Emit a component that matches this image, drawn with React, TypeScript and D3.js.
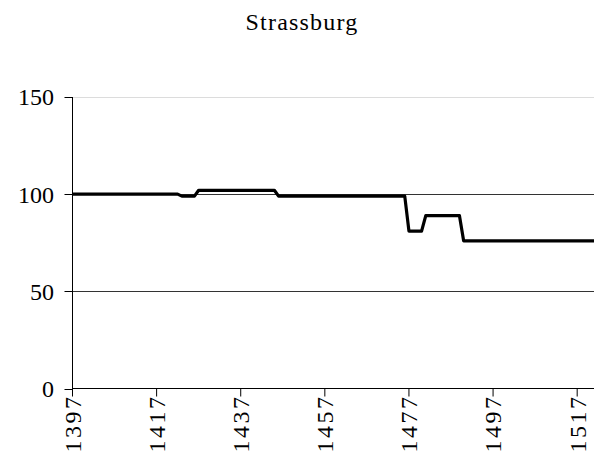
import React from "react";
import * as d3 from "d3";

const years = [1397, 1422, 1423, 1426, 1427, 1445, 1446, 1476, 1477, 1480, 1481, 1489, 1490, 1521];
const values = [100, 100, 99, 99, 102, 102, 99, 99, 81, 81, 89, 89, 76, 76];
const xTicks = [1397, 1417, 1437, 1457, 1477, 1497, 1517];
const yTicks = [0, 50, 100, 150];
const title = "Strassburg";

const W = 603;
const H = 457;
const left = 72.5;
const right = 594;
const top = 97;
const bottom = 388.5;

export default function App() {
  const x = d3.scaleLinear().domain([1397, 1521]).range([left, right]);
  const y = d3.scaleLinear().domain([0, 150]).range([bottom, top]);
  const pts: [number, number][] = years.map((yr, i) => [yr, values[i]]);
  const line = d3
    .line<[number, number]>()
    .x((d) => x(d[0]))
    .y((d) => y(d[1]));
  const font = "Times New Roman, Liberation Serif, Times, serif";
  return (
    <svg
      width={W}
      height={H}
      style={{ position: "absolute", left: 0, top: 0, background: "#fff" }}
    >
      <rect x={0} y={0} width={W} height={H} fill="#fff" />
      <text x={302} y={30} textAnchor="middle" style={{ fontFamily: font }} fontSize={24} letterSpacing={1.2}>
        {title}
      </text>
      {yTicks
        .filter((t) => t > 0)
        .map((t) => (
          <line
            key={"g" + t}
            x1={left}
            x2={right}
            y1={Math.round(y(t)) + 0.5}
            y2={Math.round(y(t)) + 0.5}
            stroke={t === 150 ? "#dcdcdc" : "#333"}
            strokeWidth={1}
          />
        ))}
      {yTicks.map((t) => (
        <g key={"y" + t}>
          <line x1={left - 8} x2={left} y1={Math.round(y(t)) + 0.5} y2={Math.round(y(t)) + 0.5} stroke="#000" />
          <text
            x={54}
            y={y(t)}
            dy="0.35em"
            textAnchor="end"
            style={{ fontFamily: font }}
            fontSize={24}
          >
            {t}
          </text>
        </g>
      ))}
      <line x1={left} x2={left} y1={top} y2={bottom + 0.5} stroke="#000" />
      <line x1={left} x2={right} y1={bottom} y2={bottom} stroke="#000" />
      {xTicks.map((t) => (
        <g key={"x" + t}>
          <line x1={x(t)} x2={x(t)} y1={bottom} y2={bottom + 8} stroke="#000" />
          <text
            transform={`translate(${x(t)},${bottom + 6}) rotate(-90)`}
            dy="0.35em"
            textAnchor="end"
            style={{ fontFamily: font }}
            fontSize={24}
            letterSpacing={2.5}
          >
            {t}
          </text>
        </g>
      ))}
      <path
        d={line(pts) || ""}
        fill="none"
        stroke="#000"
        strokeWidth={3.2}
        strokeLinejoin="round"
      />
    </svg>
  );
}
